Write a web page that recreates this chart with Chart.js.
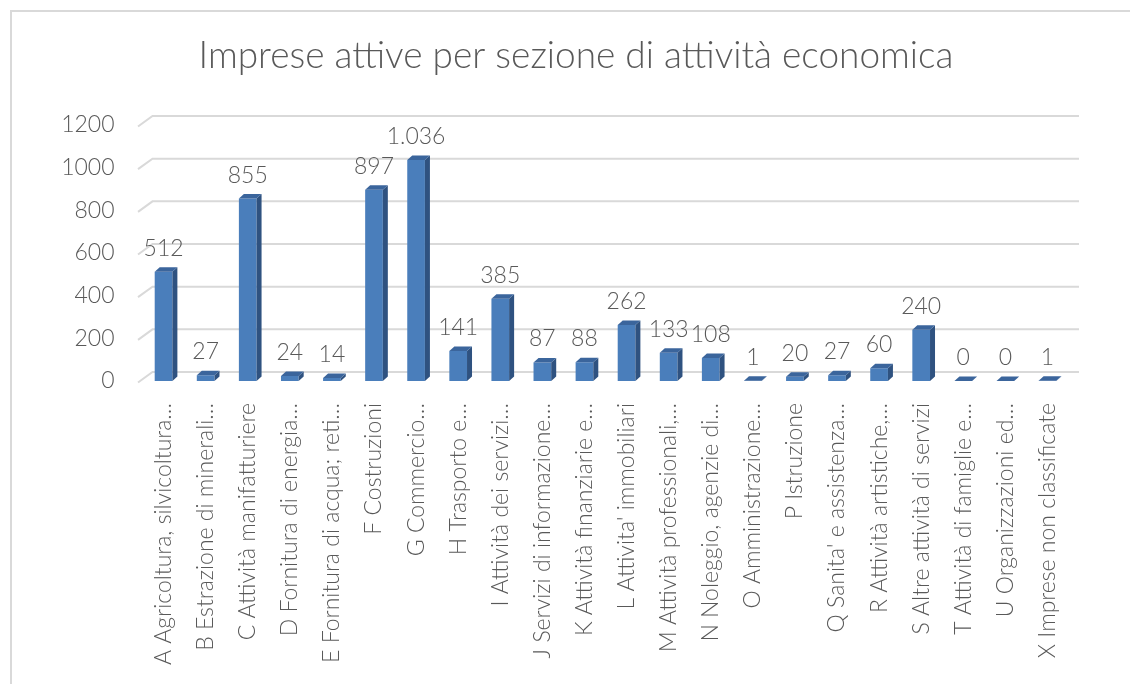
<!DOCTYPE html>
<html>
<head>
<meta charset="utf-8">
<script src="https://cdn.jsdelivr.net/npm/chart.js@4/dist/chart.umd.min.js"></script>
<style>
  body { margin: 0; background: #fff; overflow: hidden; }
  #frame { position: absolute; left: 10px; top: 10px; width: 1200px; height: 800px;
           border-left: 2px solid #d9d9d9; border-top: 2px solid #d9d9d9; }
  #chart { position: absolute; left: 0; top: 0; }
</style>
</head>
<body>
<div id="frame"></div>
<canvas id="chart" width="1130" height="684"></canvas>
<script>
const chartTitle = 'Imprese attive per sezione di attività economica';
const categories = [
  'A Agricoltura, silvicoltura…',
  'B Estrazione di minerali…',
  'C Attività manifatturiere',
  'D Fornitura di energia…',
  'E Fornitura di acqua; reti…',
  'F Costruzioni',
  'G Commercio…',
  'H Trasporto e…',
  'I Attività dei servizi…',
  'J Servizi di informazione…',
  'K Attività finanziarie e…',
  "L Attivita' immobiliari",
  'M Attività professionali,…',
  'N Noleggio, agenzie di…',
  'O Amministrazione…',
  'P Istruzione',
  "Q Sanita' e assistenza…",
  'R Attività artistiche,…',
  'S Altre attività di servizi',
  'T Attività di famiglie e…',
  'U Organizzazioni ed…',
  'X Imprese non classificate'
];
const imprese = [512, 27, 855, 24, 14, 897, 1036, 141, 385, 87, 88, 262, 133, 108, 1, 20, 27, 60, 240, 0, 0, 1];
const yTicks = [0, 200, 400, 600, 800, 1000, 1200];

const textColor = '#595959';
const gridColor = '#d9d9d9';
const fontFamily = 'Lato, "Open Sans", sans-serif';

// italian thousands separator (1.036)
function fmt(v) {
  return String(v).replace(/\B(?=(\d{3})+(?!\d))/g, '.');
}

// title, back wall gridlines, 3d side/top faces, value labels
const fake3d = {
  id: 'fake3d',
  beforeDatasetsDraw(chart) {
    const ctx = chart.ctx;
    const y = chart.scales.y;
    const area = chart.chartArea;
    ctx.save();
    ctx.fillStyle = textColor;
    ctx.font = '300 37px ' + fontFamily;
    ctx.textAlign = 'center';
    ctx.textBaseline = 'alphabetic';
    ctx.fillText(chartTitle, 576, 68);

    ctx.strokeStyle = gridColor;
    ctx.lineWidth = 2;
    yTicks.forEach(t => {
      const py = y.getPixelForValue(t);
      ctx.beginPath();
      ctx.moveTo(area.left - 4.5, py + 1.5);
      ctx.lineTo(area.left + 10, py - 9);
      ctx.lineTo(area.right + 10.5, py - 9);
      ctx.stroke();
    });
    ctx.restore();
  },
  afterDatasetsDraw(chart) {
    const ctx = chart.ctx;
    const meta = chart.getDatasetMeta(0);
    const dx = 5, dy = 4.5;
    ctx.save();
    meta.data.forEach(bar => {
      const w = bar.width;
      const l = bar.x - w / 2, r = bar.x + w / 2;
      const top = bar.y, base = bar.base;
      // side
      ctx.fillStyle = '#2f5280';
      ctx.beginPath();
      ctx.moveTo(r, top);
      ctx.lineTo(r + dx, top - dy);
      ctx.lineTo(r + dx, base - dy);
      ctx.lineTo(r, base);
      ctx.closePath();
      ctx.fill();
      // top
      ctx.fillStyle = '#3b659c';
      ctx.beginPath();
      ctx.moveTo(l, top);
      ctx.lineTo(l + dx, top - dy);
      ctx.lineTo(r + dx, top - dy);
      ctx.lineTo(r, top);
      ctx.closePath();
      ctx.fill();
    });
    ctx.fillStyle = textColor;
    ctx.font = '300 23px ' + fontFamily;
    ctx.textAlign = 'center';
    ctx.textBaseline = 'alphabetic';
    meta.data.forEach((bar, i) => {
      ctx.fillText(fmt(imprese[i]), bar.x, bar.y - 16);
    });
    ctx.restore();
  }
};

new Chart(document.getElementById('chart').getContext('2d'), {
  type: 'bar',
  data: {
    labels: categories,
    datasets: [{
      label: 'Imprese attive',
      data: imprese,
      backgroundColor: '#4a7ebb',
      borderWidth: 0,
      categoryPercentage: 1,
      barPercentage: 0.42
    }]
  },
  options: {
    responsive: false,
    animation: false,
    devicePixelRatio: 1,
    layout: { padding: { left: 0, right: 61.5, top: 125, bottom: 0 } },
    plugins: {
      legend: { display: false },
      tooltip: { enabled: false },
      title: { display: false }
    },
    scales: {
      x: {
        grid: { display: false },
        border: { display: false },
        ticks: {
          color: textColor,
          font: { family: fontFamily, size: 23, weight: '300' },
          minRotation: 90,
          maxRotation: 90,
          autoSkip: false,
          padding: 14
        },
        afterFit(scale) { scale.height = 303; }
      },
      y: {
        min: 0,
        max: 1200,
        grid: { display: false },
        border: { display: false },
        ticks: {
          stepSize: 200,
          color: textColor,
          font: { family: fontFamily, size: 23, weight: '300' },
          padding: 20,
          callback: v => String(v)
        },
        afterFit(scale) { scale.width = 142.5; }
      }
    }
  },
  plugins: [fake3d]
});
</script>
</body>
</html>
